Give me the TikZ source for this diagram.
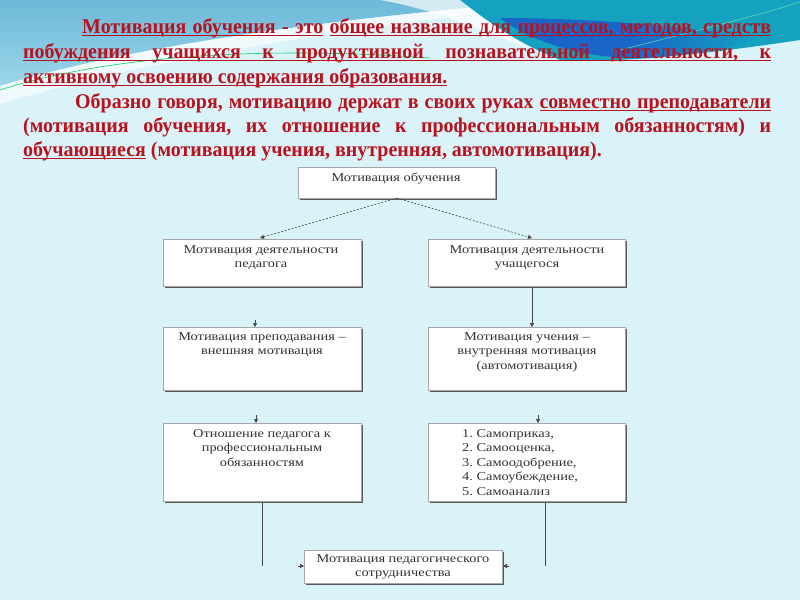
\documentclass[tikz,border=0pt]{standalone}
\usepackage{fontspec}
\setmainfont{Liberation Serif}
\newfontfamily\boxfont[FakeStretch=1.2]{Liberation Serif}
\newfontfamily\hdrfont[FakeStretch=0.95]{Liberation Serif}
\usetikzlibrary{arrows.meta}
\definecolor{bgc}{HTML}{DAF3F8}
\definecolor{tlblue}{HTML}{6DB9D8}
\definecolor{tlblue2}{HTML}{9AD6EA}
\definecolor{teal}{HTML}{14A2C0}
\definecolor{deepb}{HTML}{1A66C8}
\definecolor{hdrred}{RGB}{185,18,30}
\definecolor{boxtext}{HTML}{333333}
\definecolor{conn}{HTML}{444444}
\newcommand\myUL[1]{\setbox0\hbox{#1}\rlap{\rule[-2.9pt]{\wd0}{0.9pt}}\box0\relax}
\newcommand\myULs{\leaders\hrule height -2.0pt depth 2.9pt\hskip 0.25em plus 1fil\relax}
\newcommand\myGap{\hskip 0.25em plus 1fil\relax}
\tikzset{
  hdr/.style={inner sep=0pt, anchor=base west, text=hdrred, font=\hdrfont\fontsize{21}{24}\selectfont\bfseries},
  boxt/.style={inner sep=0pt, text=boxtext, font=\boxfont\fontsize{12}{14.6}\selectfont, align=center, anchor=north},
  card/.style={draw=gray!70, fill=white, line width=0.5pt},
  shadowc/.style={fill=black!65},
  con/.style={draw=conn, line width=0.6pt},
  tip/.style={-{Triangle[width=4pt,length=4pt]}},
  dashc/.style={dash pattern=on 2pt off 1.6pt}
}
\newcommand\cardbox[5]{% name, x1, y1, x2, y2
  \fill[shadowc] (#2+1.8,#3+1.8) rectangle (#4+1.8,#5+1.8);
  \path[card] (#2,#3) rectangle (#4,#5);
  \coordinate (#1-nw) at (#2,#3);
  \coordinate (#1-se) at (#4,#5);
}
\begin{document}
\begin{tikzpicture}[x=1pt,y=-1pt]
\useasboundingbox (0,0) rectangle (800,600);
\fill[bgc] (0,0) rectangle (800,600);
% decoration top-left
\shade[top color=tlblue, bottom color=tlblue2] (0,0) -- (560,0) .. controls (380,14) and (150,40) .. (0,86) -- cycle;
\fill[white, opacity=0.6] (0,86) .. controls (150,40) and (380,14) .. (560,0) -- (600,0) .. controls (400,20) and (160,55) .. (0,104) -- cycle;
\draw[green!50!teal, line width=0.6pt] (0,90) .. controls (100,58) and (250,45) .. (430,58);
% decoration top-right
\fill[teal] (460,0) -- (800,0) -- (800,40) .. controls (720,52) and (620,64) .. (560,60) .. controls (520,45) and (485,20) .. (460,0) -- cycle;
\shade[left color=deepb, right color=teal, middle color=deepb] (500,18) .. controls (540,48) and (600,60) .. (650,58) .. controls (700,54) and (735,46) .. (760,38) .. controls (700,28) and (600,18) .. (500,18) -- cycle;
\fill[white, opacity=0.7] (380,0) -- (460,0) .. controls (485,20) and (520,45) .. (560,60) .. controls (500,40) and (450,12) .. (380,0) -- cycle;
\draw[white!60!green, line width=0.5pt, opacity=0.7] (620,50) .. controls (700,30) and (760,15) .. (800,2);

% header text
\node[hdr] (l1) at (82,33) {\hbox to 689pt{\myUL{Мотивация}\myULs\myUL{обучения}\myULs\myUL{-}\myULs\myUL{это}\myGap\myUL{общее}\myULs\myUL{название}\myULs\myUL{для}\myULs\myUL{процессов,}\myULs\myUL{методов,}\myULs\myUL{средств}}};
\node[hdr] (l2) at (23,58) {\hbox to 748pt{\myUL{побуждения}\myULs\myUL{учащихся}\myULs\myUL{к}\myULs\myUL{продуктивной}\myULs\myUL{познавательной}\myULs\myUL{деятельности,}\myULs\myUL{к}}};
\node[hdr] (l3) at (23,83) {\myUL{активному освоению содержания образования.}};
\node[hdr] (l4) at (75,108) {\hbox to 696pt{Образно\myGap говоря,\myGap мотивацию\myGap держат\myGap в\myGap своих\myGap руках\myGap\myUL{совместно}\myULs\myUL{преподаватели}}};
\node[hdr] (l5) at (23,132) {\hbox to 748pt{(мотивация\myGap обучения,\myGap их\myGap отношение\myGap к\myGap профессиональным\myGap обязанностям)\myGap и}};
\node[hdr] (l6) at (23,156) {\myUL{обучающиеся} (мотивация учения, внутренняя, автомотивация).};

% boxes
\cardbox{b1}{298}{167}{495}{198}
\cardbox{b2l}{163}{239}{361}{286}
\cardbox{b2r}{428}{239}{625}{286}
\cardbox{b3l}{163}{327}{361}{390}
\cardbox{b3r}{428}{327}{625}{390}
\cardbox{b4l}{163}{423}{361}{501}
\cardbox{b4r}{428}{423}{625}{501}
\cardbox{b5}{304}{550}{502}{583}

\node[boxt] (t1) at (396,173) {Мотивация обучения};
\node[boxt] (t2l) at (261,245) {Мотивация деятельности\\педагога};
\node[boxt] (t2r) at (527,245) {Мотивация деятельности\\учащегося};
\node[boxt] (t3l) at (262,332) {Мотивация преподавания –\\внешняя мотивация};
\node[boxt] (t3r) at (527,332) {Мотивация учения –\\внутренняя мотивация\\(автомотивация)};
\node[boxt] (t4l) at (262,429) {Отношение педагога к\\профессиональным\\обязанностям};
\node[boxt, align=left, anchor=north west] (t4r) at (462,429) {1.~Самоприказ,\\2.~Самооценка,\\3.~Самоодобрение,\\4.~Самоубеждение,\\5.~Самоанализ};
\node[boxt] (t5) at (403,554) {Мотивация педагогического\\сотрудничества};

% connectors
\coordinate (b1s) at (397,198);
\coordinate (d2l) at (260,238);
\coordinate (d2r) at (532,238);
\draw[con, dashc, tip] (b1s) -- (d2l);
\draw[con, dashc, tip] (b1s) -- (d2r);
\coordinate (b2rs) at (532,287.5);
\coordinate (b3rn) at (532,327);
\draw[con, tip] (b2rs) -- (b3rn);
\coordinate (s3l) at (255,320);
\coordinate (b3ln) at (255,327);
\draw[con, tip] (s3l) -- (b3ln);
\coordinate (s4l) at (256,415);
\coordinate (b4ln) at (256,423);
\draw[con, tip] (s4l) -- (b4ln);
\coordinate (s4r) at (538,415);
\coordinate (b4rn) at (538,423);
\draw[con, tip] (s4r) -- (b4rn);
\coordinate (b4ls) at (262,502.5);
\coordinate (e4l) at (262,566);
\draw[con] (b4ls) -- (e4l);
\coordinate (b4rs) at (545,502.5);
\coordinate (e4r) at (545,566);
\draw[con] (b4rs) -- (e4r);
\coordinate (a5l) at (298,566);
\coordinate (b5w) at (304,566);
\draw[con, tip] (a5l) -- (b5w);
\coordinate (a5r) at (509,566);
\coordinate (b5e) at (503,566);
\draw[con, tip] (a5r) -- (b5e);
\end{tikzpicture}
\end{document}
